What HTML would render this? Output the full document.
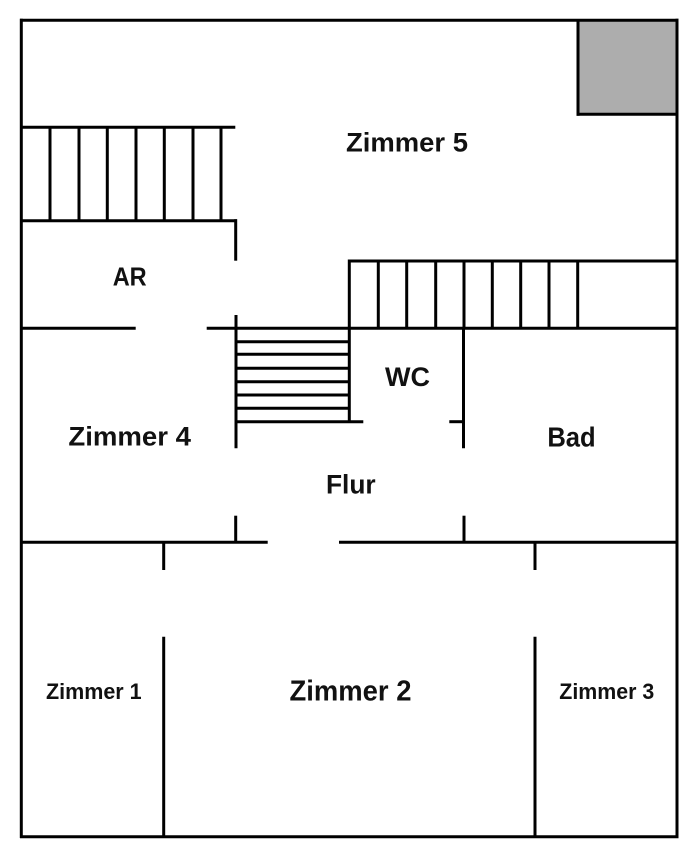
<!DOCTYPE html>
<html>
<head>
<meta charset="utf-8">
<style>
html,body{margin:0;padding:0;background:#fff;}
svg{display:block;}
text{font-family:"Liberation Sans",Arial,sans-serif;font-weight:bold;fill:#111;}
</style>
</head>
<body>
<svg width="700" height="855" viewBox="0 0 700 855" xmlns="http://www.w3.org/2000/svg">
<rect width="700" height="855" fill="#fff"/>
<!-- gray box -->
<rect x="578" y="20" width="99" height="94.3" fill="#adadad"/>
<g stroke="#000" stroke-width="3" fill="none" stroke-linecap="butt">
  <!-- outer walls -->
  <line x1="21.3" y1="18.7" x2="21.3" y2="838"/>
  <line x1="20" y1="20.3" x2="678.5" y2="20.3"/>
  <line x1="677" y1="18.7" x2="677" y2="838"/>
  <line x1="20" y1="836.7" x2="678.5" y2="836.7"/>
  <!-- gray box border -->
  <line x1="578" y1="20" x2="578" y2="115.8"/>
  <line x1="576.5" y1="114.3" x2="677" y2="114.3"/>

  <!-- left stairs -->
  <line x1="21" y1="127.3" x2="235.3" y2="127.3"/>
  <line x1="21" y1="220.7" x2="237" y2="220.7"/>
  <line x1="50" y1="127.3" x2="50" y2="220.7"/>
  <line x1="79" y1="127.3" x2="79" y2="220.7"/>
  <line x1="107.3" y1="127.3" x2="107.3" y2="220.7"/>
  <line x1="136" y1="127.3" x2="136" y2="220.7"/>
  <line x1="164.3" y1="127.3" x2="164.3" y2="220.7"/>
  <line x1="193" y1="127.3" x2="193" y2="220.7"/>
  <line x1="221" y1="127.3" x2="221" y2="220.7"/>
  <line x1="235.7" y1="219.2" x2="235.7" y2="260.7"/>

  <!-- right upper stairs -->
  <line x1="348" y1="261" x2="677" y2="261"/>
  <line x1="349.3" y1="259.5" x2="349.3" y2="421.7"/>
  <line x1="378.3" y1="261" x2="378.3" y2="328.3"/>
  <line x1="406.7" y1="261" x2="406.7" y2="328.3"/>
  <line x1="435.7" y1="261" x2="435.7" y2="328.3"/>
  <line x1="464" y1="261" x2="464" y2="328.3"/>
  <line x1="492.3" y1="261" x2="492.3" y2="328.3"/>
  <line x1="520.7" y1="261" x2="520.7" y2="328.3"/>
  <line x1="549" y1="261" x2="549" y2="328.3"/>
  <line x1="577.7" y1="261" x2="577.7" y2="328.3"/>

  <!-- wall y=328 -->
  <line x1="21" y1="328.3" x2="135.7" y2="328.3"/>
  <line x1="206.7" y1="328.3" x2="677" y2="328.3"/>

  <!-- middle stairs -->
  <line x1="236" y1="315" x2="236" y2="448.3"/>
  <line x1="236" y1="341.7" x2="349.3" y2="341.7"/>
  <line x1="236" y1="354.3" x2="349.3" y2="354.3"/>
  <line x1="236" y1="368.3" x2="349.3" y2="368.3"/>
  <line x1="236" y1="381.7" x2="349.3" y2="381.7"/>
  <line x1="236" y1="395" x2="349.3" y2="395"/>
  <line x1="236" y1="408.3" x2="349.3" y2="408.3"/>
  <line x1="236" y1="421.7" x2="363.3" y2="421.7"/>

  <!-- WC right wall -->
  <line x1="463.5" y1="328.3" x2="463.5" y2="448.3"/>
  <line x1="449.3" y1="421.7" x2="463.5" y2="421.7"/>

  <!-- wall y=542 -->
  <line x1="21" y1="542.3" x2="267.7" y2="542.3"/>
  <line x1="339" y1="542.3" x2="677" y2="542.3"/>
  <line x1="235.7" y1="515.7" x2="235.7" y2="542.3"/>
  <line x1="464" y1="515.7" x2="464" y2="542.3"/>

  <!-- lower partitions -->
  <line x1="163.7" y1="542.3" x2="163.7" y2="570"/>
  <line x1="163.7" y1="636.7" x2="163.7" y2="836.7"/>
  <line x1="535" y1="542.3" x2="535" y2="570"/>
  <line x1="535" y1="636.7" x2="535" y2="836.7"/>
</g>

<!-- labels -->
<text x="407" y="151.7" font-size="27" text-anchor="middle" textLength="122" lengthAdjust="spacingAndGlyphs">Zimmer 5</text>
<text x="129.7" y="285.7" font-size="26" text-anchor="middle" textLength="34" lengthAdjust="spacingAndGlyphs">AR</text>
<text x="407.5" y="386" font-size="27" text-anchor="middle" textLength="45" lengthAdjust="spacingAndGlyphs">WC</text>
<text x="129.7" y="445.7" font-size="27" text-anchor="middle" textLength="122.7" lengthAdjust="spacingAndGlyphs">Zimmer 4</text>
<text x="571.5" y="446.7" font-size="28" text-anchor="middle" textLength="48.3" lengthAdjust="spacingAndGlyphs">Bad</text>
<text x="350.8" y="493.3" font-size="27" text-anchor="middle" textLength="49.7" lengthAdjust="spacingAndGlyphs">Flur</text>
<text x="93.8" y="699" font-size="22" text-anchor="middle" textLength="95.7" lengthAdjust="spacingAndGlyphs">Zimmer 1</text>
<text x="350.5" y="700.7" font-size="28.5" text-anchor="middle" textLength="122" lengthAdjust="spacingAndGlyphs">Zimmer 2</text>
<text x="606.8" y="699" font-size="22" text-anchor="middle" textLength="95" lengthAdjust="spacingAndGlyphs">Zimmer 3</text>
</svg>
</body>
</html>
